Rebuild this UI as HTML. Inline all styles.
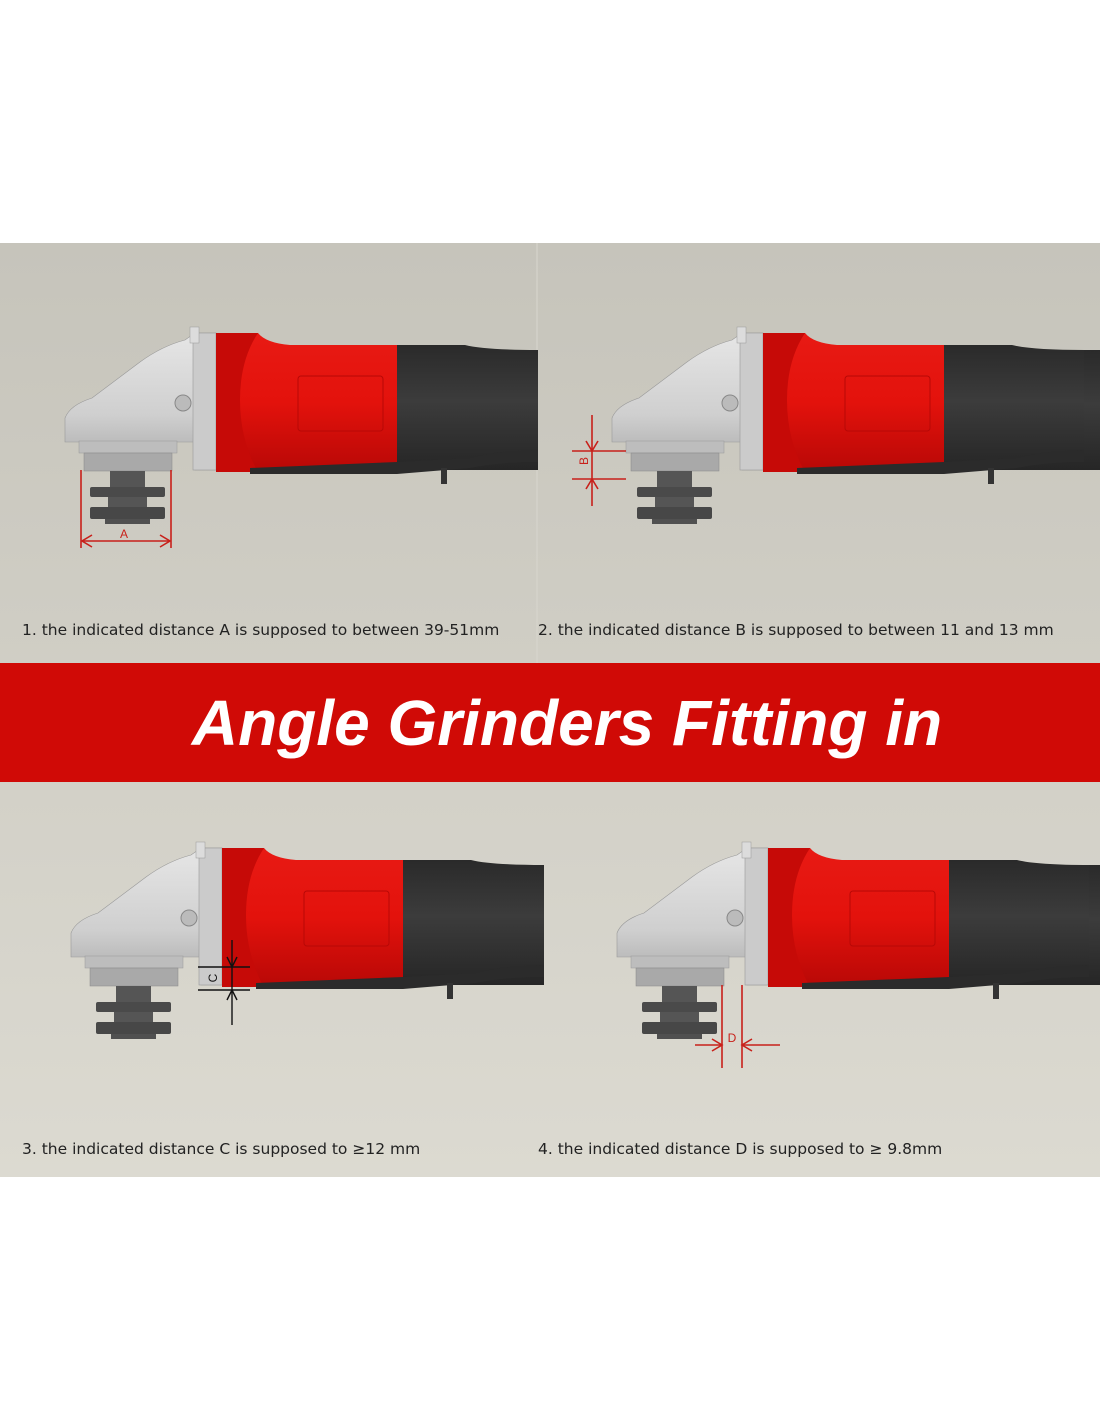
<!DOCTYPE html>
<html><head><meta charset="utf-8"><style>
html,body{margin:0;padding:0;background:#fff;}
body{width:1100px;height:1422px;overflow:hidden;}
</style></head><body>
<svg width="1100" height="1422" viewBox="0 0 1100 1422" xmlns="http://www.w3.org/2000/svg">
<defs>
<linearGradient id="bg" x1="0" y1="0" x2="0" y2="1"><stop offset="0" stop-color="#c6c4bb"/><stop offset="1" stop-color="#dcdad1"/></linearGradient>
<linearGradient id="head" x1="0" y1="0" x2="0" y2="1"><stop offset="0" stop-color="#e6e6e6"/><stop offset="0.6" stop-color="#cfcfcf"/><stop offset="1" stop-color="#a8a8a8"/></linearGradient>
<linearGradient id="red" x1="0" y1="0" x2="0" y2="1"><stop offset="0" stop-color="#e81a14"/><stop offset="0.5" stop-color="#e3120c"/><stop offset="1" stop-color="#b80806"/></linearGradient>
<linearGradient id="blk" x1="0" y1="0" x2="0" y2="1"><stop offset="0" stop-color="#2a2a2a"/><stop offset="0.45" stop-color="#3c3c3c"/><stop offset="1" stop-color="#262626"/></linearGradient>
<g id="g">
<path d="M65,442 L65,418 Q70,405 92,398 L140,362 Q162,346 185,340 L195,333 L216,333 L216,470 L195,470 L195,442 Z" fill="url(#head)" stroke="#999" stroke-width="0.6"/>
<rect x="193" y="333" width="23" height="137" fill="#cbcbcb" stroke="#999" stroke-width="0.6"/>
<rect x="190" y="327" width="9" height="16" fill="#dcdcdc" stroke="#999" stroke-width="0.5"/>
<circle cx="183" cy="403" r="8" fill="#bbb" stroke="#888"/>
<rect x="79" y="441" width="98" height="12" fill="#bdbdbd" stroke="#999" stroke-width="0.5"/>
<rect x="84" y="453" width="88" height="18" fill="#a9a9a9" stroke="#888" stroke-width="0.5"/>
<path d="M216,333 L258,333 Q266,343 290,345 L397,345 L397,468 L262,468 L252,472 L216,472 Z" fill="url(#red)"/>
<path d="M216,333 L258,333 Q240,360 240,400 Q240,440 258,472 L216,472 Z" fill="#c60a07"/>
<rect x="298" y="376" width="85" height="55" rx="3" fill="none" stroke="#b80806" stroke-width="1"/>
<path d="M397,345 L465,345 Q485,350 538,350 L538,470 L397,470 Z" fill="url(#blk)"/>
<path d="M250,468 L397,462 L470,458 Q500,450 538,450 L538,462 Q500,462 470,468 L397,474 L250,474 Z" fill="#2b2b2b"/>
<rect x="441" y="468" width="6" height="16" fill="#333"/>
<rect x="110" y="471" width="35" height="16" fill="#555"/>
<rect x="90" y="487" width="75" height="10" rx="2" fill="#4a4a4a"/>
<rect x="108" y="497" width="39" height="10" fill="#555"/>
<rect x="90" y="507" width="75" height="12" rx="2" fill="#474747"/>
<rect x="105" y="519" width="45" height="5" fill="#505050"/>
</g>
</defs>
<rect x="0" y="243" width="1100" height="934" fill="url(#bg)"/>
<line x1="537" y1="243" x2="537" y2="663" stroke="#d8d6ce" stroke-width="1"/>
<use href="#g"/>
<use href="#g" transform="translate(547,0)"/>
<use href="#g" transform="translate(6,515)"/>
<use href="#g" transform="translate(552,515)"/>
<rect x="1084" y="350" width="16" height="120" fill="url(#blk)"/>
<rect x="1089" y="865" width="11" height="120" fill="url(#blk)"/>
<rect x="0" y="663" width="1100" height="119" fill="#d00a06"/>
<text x="567" y="745" text-anchor="middle" font-family="Liberation Sans, sans-serif" font-weight="bold" font-style="italic" font-size="64" fill="#fff">Angle Grinders Fitting in</text>
<g stroke="#c8201a" stroke-width="1.6" fill="none">
<line x1="81" y1="470" x2="81" y2="548"/><line x1="171" y1="470" x2="171" y2="548"/>
<line x1="82" y1="541" x2="170" y2="541"/>
<path d="M92,535 L82,541 L92,547 M160,535 L170,541 L160,547"/>
<line x1="572" y1="451" x2="626" y2="451"/><line x1="572" y1="479" x2="626" y2="479"/>
<line x1="592" y1="415" x2="592" y2="506"/>
<path d="M586,441 L592,451 L598,441 M586,489 L592,479 L598,489"/>
<line x1="722" y1="985" x2="722" y2="1068"/><line x1="742" y1="985" x2="742" y2="1068"/>
<line x1="695" y1="1045" x2="722" y2="1045"/><line x1="742" y1="1045" x2="780" y2="1045"/>
<path d="M712,1039 L722,1045 L712,1051 M752,1039 L742,1045 L752,1051"/>
</g>
<g stroke="#111" stroke-width="1.4" fill="none">
<line x1="198" y1="967" x2="250" y2="967"/><line x1="198" y1="990" x2="250" y2="990"/>
<line x1="232" y1="940" x2="232" y2="1025"/>
<path d="M227,957 L232,967 L237,957 M227,1000 L232,990 L237,1000"/>
</g>
<g font-family="Liberation Sans, sans-serif" font-size="12" fill="#c8201a">
<text x="124" y="538" text-anchor="middle">A</text>
<text x="584" y="465" text-anchor="middle" transform="rotate(-90 584 461)">B</text>
<text x="732" y="1042" text-anchor="middle">D</text>
</g>
<text x="213" y="982" text-anchor="middle" font-family="Liberation Sans, sans-serif" font-size="12" fill="#111" transform="rotate(-90 213 978)">C</text>
<g font-family="DejaVu Sans, Liberation Sans, sans-serif" font-size="15.5" fill="#222">
<text x="22" y="635">1. the indicated distance A is supposed to  between 39-51mm</text>
<text x="538" y="635">2. the indicated distance B is supposed to  between 11 and 13 mm</text>
<text x="22" y="1154">3. the indicated distance C is supposed to  ≥12 mm</text>
<text x="538" y="1154">4. the indicated distance D is supposed to  ≥ 9.8mm</text>
</g>
</svg>
</body></html>
